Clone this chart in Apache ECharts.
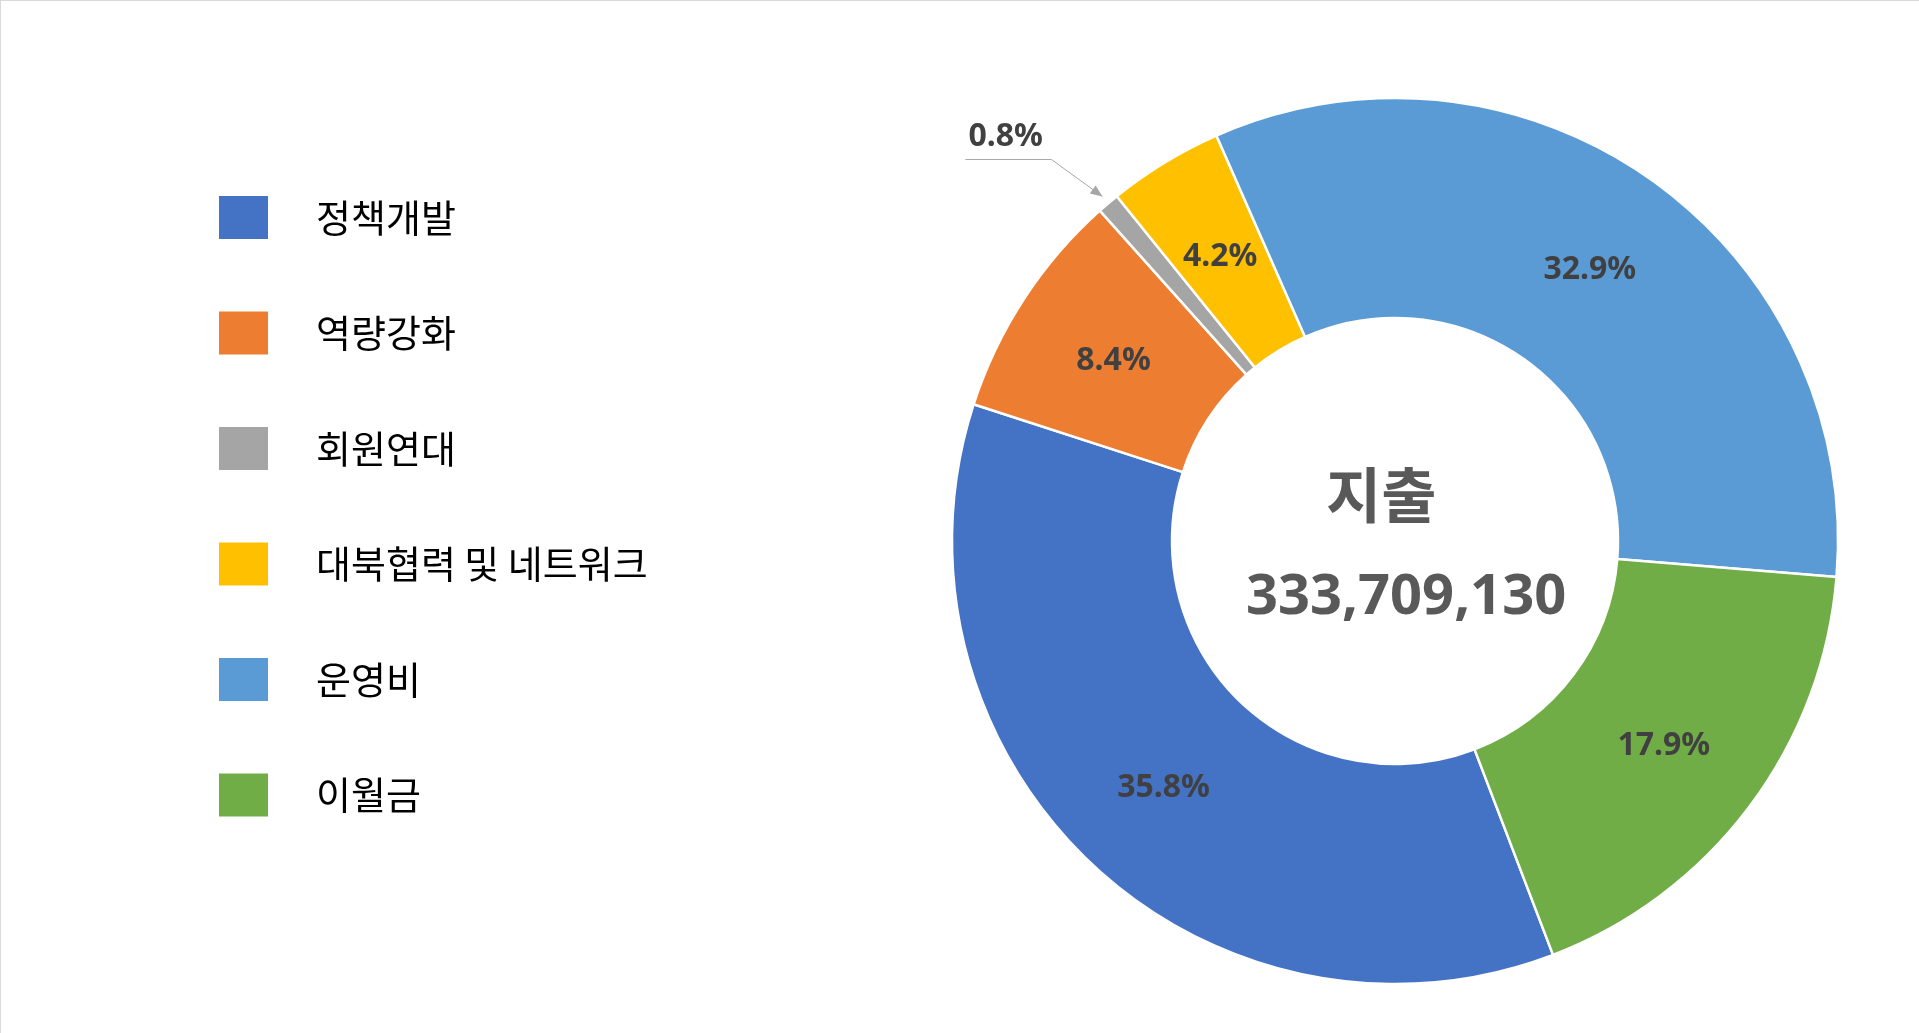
<!DOCTYPE html>
<html>
<head>
<meta charset="utf-8">
<script src="https://cdn.jsdelivr.net/npm/echarts@6/dist/echarts.min.js"></script>
<style>
  html, body { margin: 0; padding: 0; background: #fff; }
  #wrap { width: 1919px; height: 1033px; box-sizing: border-box; border-top: 1px solid #d9d9d9; border-left: 1px solid #d9d9d9; }
  #chart { width: 100%; height: 100%; }
</style>
</head>
<body>
<div id="wrap"><div id="chart"></div></div>
<script>
const categories = ["정책개발", "역량강화", "회원연대", "대북협력 및 네트워크", "운영비", "이월금"];
const shares = [35.8, 8.4, 0.8, 4.2, 32.9, 17.9];
const colors = ["#4472C4", "#ED7D31", "#A5A5A5", "#FFC000", "#5B9BD5", "#70AD47"];
const centerTitle = "지출";
const centerTotal = "333,709,130";

const myChart = echarts.init(document.getElementById("chart"));
let leader = null;

const data = categories.map((name, i) => {
  const item = { name, value: shares[i], itemStyle: { color: colors[i] } };
  // small slice gets an outside label with a leader line
  if (i === 2) {
    item.label = { position: "outside" };
    item.labelLine = {
      show: true,
      length: 62,
      length2: 86,
      lineStyle: { color: "#a6a6a6", width: 1 }
    };
  }
  return item;
});

myChart.setOption({
  animation: false,
  legend: {
    orient: "vertical",
    left: 216,
    top: 193,
    padding: 0,
    itemWidth: 51,
    itemHeight: 45,
    itemGap: 68.5,
    icon: "rect",
    selectedMode: false,
    textStyle: {
      fontFamily: "Noto Sans CJK KR",
      fontSize: 38,
      color: "#000",
      padding: [0, 0, 0, 42]
    },
    data: categories
  },
  graphic: [
    {
      type: "text",
      left: 1325,
      top: 464,
      style: {
        text: centerTitle,
        fontFamily: "Noto Sans CJK KR",
        fontWeight: "bold",
        fontSize: 60,
        fill: "#595959"
      }
    },
    {
      type: "text",
      left: 1245,
      top: 569,
      style: {
        text: centerTotal,
        fontFamily: "Noto Sans, Noto Sans CJK KR",
        fontWeight: "bold",
        fontSize: 56,
        fill: "#595959"
      }
    }
  ],
  series: [
    {
      type: "pie",
      center: [1394, 540],
      radius: [223, 443],
      startAngle: 290.9,
      clockwise: true,
      avoidLabelOverlap: false,
      itemStyle: { borderColor: "#fff", borderWidth: 2.5 },
      label: {
        show: true,
        position: "inside",
        formatter: "{c}%",
        fontFamily: "Noto Sans, Noto Sans CJK KR",
        fontWeight: "bold",
        fontSize: 32,
        color: "#404040"
      },
      labelLine: { show: false },
      labelLayout: function (params) {
        if (params.dataIndex !== 2 || !params.labelLinePoints) {
          return { dy: 1.5 };
        }
        const p = params.labelLinePoints;
        // push the start a little off the ring, then bend to a flat leg
        const dx = p[1][0] - p[0][0];
        const dy = p[1][1] - p[0][1];
        const len = Math.sqrt(dx * dx + dy * dy) || 1;
        const s = [p[0][0] + (dx / len) * 9, p[0][1] + (dy / len) * 9];
        const m = [s[0] - 51, s[1] - 37];
        const e = [m[0] - 86, m[1]];
        leader = { s, m };
        return {
          x: e[0] + 3,
          y: e[1] - 23,
          align: "left",
          verticalAlign: "middle",
          labelLinePoints: [s, m, e]
        };
      },
      emphasis: { disabled: true },
      data
    }
  ]
});

// arrow head at the tip of the leader line
if (leader) {
  const { s, m } = leader;
  const ux = s[0] - m[0], uy = s[1] - m[1];
  const l = Math.sqrt(ux * ux + uy * uy);
  const ax = ux / l, ay = uy / l;
  const bx = s[0] - ax * 12, by = s[1] - ay * 12;
  myChart.setOption({
    graphic: [
      {
        id: "arrow",
        type: "polygon",
        shape: {
          points: [
            [s[0], s[1]],
            [bx - ay * 5, by + ax * 5],
            [bx + ay * 5, by - ax * 5]
          ]
        },
        style: { fill: "#a6a6a6" }
      }
    ]
  });
}
</script>
</body>
</html>
